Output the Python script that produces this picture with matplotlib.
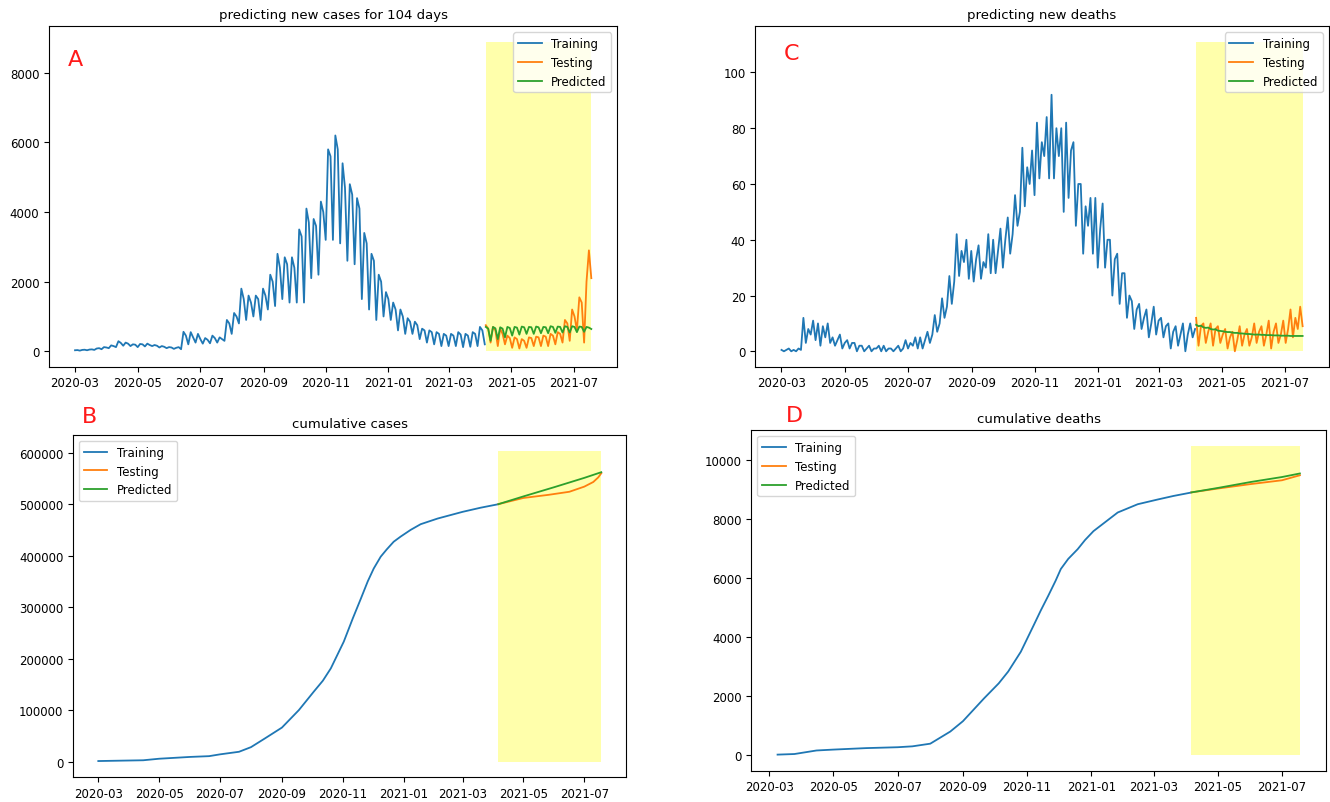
import numpy as np
import pandas as pd
import matplotlib
matplotlib.use("Agg")
import matplotlib.pyplot as plt
import matplotlib.dates as mdates

# daily new cases, three readings per week (two high days, one low day)
train_cases = [30, 35, 20, 40, 45, 30, 50, 55, 40, 80, 90, 60, 120, 110, 90,
               170, 150, 120, 290, 240, 160, 250, 220, 150, 200, 190, 120,
               210, 200, 140, 220, 180, 150, 180, 160, 110, 150, 130, 90, 120, 110, 70,
               100, 120, 60, 560, 450, 200, 550, 400, 250, 500, 350, 220,
               380, 330, 230, 450, 380, 250, 400, 350, 300, 900, 800, 500,
               1100, 1000, 800, 1800, 1500, 900, 1600, 1400, 1000, 1600, 1500, 900,
               1800, 1600, 1200,
               2200, 2000, 1300, 2800, 2400, 1500, 2700, 2500, 1400, 2700, 2400, 1400,
               3500, 3300, 1400, 4100, 3700, 2100, 3800, 3600, 2200, 4300, 4000, 3200,
               5800, 5600, 3200, 6200, 5800, 3100, 5400, 4700, 2600, 4800, 4500, 2500,
               4400, 4100, 1500,
               3400, 3100, 1200, 2800, 2600, 900, 2200, 2000, 1000, 1700, 1500, 900,
               1400, 1200, 600, 1200, 1000, 500, 950, 850, 500, 850, 750, 350,
               650, 600, 250,
               600, 550, 200, 550, 500, 150, 500, 450, 150, 500, 450, 150,
               550, 480, 120, 500, 450, 130, 550, 500, 150, 700, 600, 200]
test_cases = [750, 650, 250, 700, 600, 150, 650, 500, 200, 450, 380, 100,
              400, 350, 80, 350, 300, 100, 400, 380, 150, 420, 400, 150,
              450, 420, 150, 500, 450, 200, 550, 500, 250, 900, 800, 300,
              1200, 1000, 600, 1550, 1400, 250, 2000, 2900, 2100]
pred_cases = [700, 650, 300, 700, 660, 350, 690, 650, 400, 700, 670, 450,
              700, 680, 480, 710, 690, 500, 700, 690, 500, 710, 690, 520,
              700, 690, 520, 720, 700, 530, 710, 700, 540, 720, 700, 540,
              720, 700, 550, 710, 700, 560, 700, 680, 640]

# daily new deaths, three readings per week
train_deaths = [0.5, 0, 0.5, 1, 0, 0.5, 0, 1, 0.5, 12, 3, 8, 6, 11, 4,
                10, 2, 9, 5, 10, 3, 5, 2, 4, 6, 1, 3,
                4, 1, 3, 3, 0, 2, 2, 0, 1, 2, 0, 1, 1, 2, 0,
                2, 0, 1, 1, 0, 1, 2, 0, 1, 4, 1, 3,
                2, 5, 1, 5, 1, 4, 7, 3, 6, 13, 7, 10,
                19, 12, 16, 27, 17, 25, 42, 27, 36, 32, 40, 26, 36, 25, 33,
                38, 26, 32, 30, 42, 28, 40, 28, 36, 44, 30, 40,
                48, 35, 42, 56, 45, 50, 73, 52, 66, 60, 72, 56,
                82, 62, 75, 70, 84, 62, 92, 62, 80, 70, 80, 50, 82, 55, 72,
                75, 45, 60, 60, 35, 52, 45, 55, 35, 55, 30, 44,
                53, 30, 40, 40, 20, 33, 35, 17, 28, 28, 12, 20, 18, 8, 15,
                17, 8, 12, 15, 5, 10, 16, 6, 11, 12, 5, 9,
                10, 1, 7, 9, 2, 6, 10, 0, 6, 10, 5, 8]
test_deaths = [12, 2, 9, 10, 3, 7, 10, 2, 8, 9, 3, 6, 8, 1, 5,
               7, 0, 4, 9, 2, 6, 8, 2, 5, 10, 3, 7, 9, 2, 6,
               11, 1, 7, 10, 3, 6, 11, 3, 8, 15, 5, 12, 8, 16, 9]
pred_deaths = [9.5, 9.0, 9.2, 8.6, 8.4, 8.5, 8.0, 7.8, 7.9, 7.4, 7.3, 7.2,
               7.0, 6.9, 6.9, 6.7, 6.6, 6.6, 6.4, 6.4, 6.3, 6.2, 6.2, 6.1,
               6.0, 6.0, 6.0, 5.9, 5.9, 5.8, 5.8, 5.8, 5.7, 5.7, 5.7, 5.6,
               5.6, 5.6, 5.6, 5.5, 5.5, 5.5, 5.5, 5.5, 5.5]

# cumulative cases
cum_case_dates = ['2020-03-01', '2020-04-15', '2020-05-01', '2020-06-01', '2020-06-20',
                  '2020-07-01', '2020-07-20', '2020-08-01', '2020-08-15', '2020-09-01',
                  '2020-09-18', '2020-10-03', '2020-10-12', '2020-10-20', '2020-11-02',
                  '2020-11-11', '2020-11-19', '2020-11-26', '2020-12-02', '2020-12-09',
                  '2020-12-15', '2020-12-22', '2020-12-29', '2021-01-08', '2021-01-18',
                  '2021-02-04', '2021-03-01', '2021-03-19', '2021-04-05']
cum_case_train = [1000, 2500, 5500, 9000, 10500, 14000, 19000, 28000, 45000, 66000,
                  100000, 136000, 157000, 181000, 233000, 278000, 316000, 350000,
                  375000, 398000, 412000, 427000, 437000, 450000, 461000, 472000,
                  485000, 493000, 499500]
cum_case_test_dates = ['2021-04-06', '2021-05-01', '2021-05-26', '2021-06-16',
                       '2021-07-01', '2021-07-10', '2021-07-15', '2021-07-18']
cum_case_test = [500000, 512000, 518000, 524000, 534000, 543000, 552000, 560000]
cum_case_pred_dates = ['2021-04-06', '2021-05-01', '2021-06-01', '2021-07-01', '2021-07-18']
cum_case_pred = [500000, 515000, 533000, 551000, 562000]

# cumulative deaths
cum_death_dates = ['2020-03-09', '2020-03-25', '2020-04-01', '2020-04-15', '2020-05-01',
                   '2020-06-01', '2020-07-01', '2020-07-15', '2020-08-01', '2020-08-20',
                   '2020-09-01', '2020-09-21', '2020-10-05', '2020-10-14', '2020-10-26',
                   '2020-11-07', '2020-11-14', '2020-11-21', '2020-11-28', '2020-12-03',
                   '2020-12-10', '2020-12-19', '2020-12-26', '2021-01-03', '2021-01-26',
                   '2021-02-14', '2021-03-05', '2021-03-20', '2021-04-05']
cum_death_train = [20, 40, 80, 160, 190, 240, 270, 300, 390, 800,
                   1150, 1920, 2430, 2830, 3500, 4380, 4900, 5390, 5900, 6300,
                   6640, 6970, 7280, 7580, 8210, 8490, 8650, 8770, 8880]
cum_death_test_dates = ['2021-04-06', '2021-05-01', '2021-06-01', '2021-07-01', '2021-07-18']
cum_death_test = [8890, 9020, 9170, 9300, 9470]
cum_death_pred = [8890, 9040, 9240, 9410, 9530]

train_start, train_end = '2020-03-01', '2021-04-05'
test_start, test_end = '2021-04-06', '2021-07-18'

FONT = 8.5


def spread(values, start, end):
    return pd.date_range(start, end, periods=len(values))


def draw(ax, train, test, pred, span_top, title, legend_loc):
    ax.fill_between(test[0], 0, span_top, color='yellow', alpha=0.33, lw=0)
    ax.plot(train[0], train[1], color='C0', lw=1.3, label='Training')
    ax.plot(test[0], test[1], color='C1', lw=1.3, label='Testing')
    ax.plot(pred[0], pred[1], color='C2', lw=1.3, label='Predicted')
    ax.set_title(title, fontsize=9.5)
    ax.legend(loc=legend_loc, fontsize=FONT)
    ax.xaxis.set_major_locator(mdates.MonthLocator(bymonth=[1, 3, 5, 7, 9, 11]))
    ax.xaxis.set_major_formatter(mdates.DateFormatter('%Y-%m'))
    ax.tick_params(labelsize=FONT)


fig = plt.figure(figsize=(13.3, 8.03), dpi=100)

axA = fig.add_axes([0.037, 0.542, 0.427, 0.424])
draw(axA,
     (spread(train_cases, train_start, train_end), train_cases),
     (spread(test_cases, test_start, test_end), test_cases),
     (spread(pred_cases, test_start, test_end), pred_cases),
     8890, 'predicting new cases for 104 days', 'upper right')

axC = fig.add_axes([0.568, 0.542, 0.431, 0.424])
draw(axC,
     (spread(train_deaths, train_start, train_end), train_deaths),
     (spread(test_deaths, test_start, test_end), test_deaths),
     (spread(pred_deaths, test_start, test_end), pred_deaths),
     111, 'predicting new deaths', 'upper right')

axB = fig.add_axes([0.055, 0.031, 0.416, 0.426])
draw(axB,
     (pd.to_datetime(cum_case_dates), cum_case_train),
     (pd.to_datetime(cum_case_test_dates), cum_case_test),
     (pd.to_datetime(cum_case_pred_dates), cum_case_pred),
     604000, 'cumulative cases', 'upper left')

axD = fig.add_axes([0.565, 0.039, 0.432, 0.424])
draw(axD,
     (pd.to_datetime(cum_death_dates), cum_death_train),
     (pd.to_datetime(cum_death_test_dates), cum_death_test),
     (pd.to_datetime(cum_death_test_dates), cum_death_pred),
     10470, 'cumulative deaths', 'upper left')

for label, x, y in [('A', 0.057, 0.925), ('C', 0.595, 0.933),
                    ('B', 0.067, 0.481), ('D', 0.597, 0.482)]:
    fig.text(x, y, label, color='#ff1a1a', fontsize=16, ha='center', va='center')

fig.savefig('out.png', dpi=100)
